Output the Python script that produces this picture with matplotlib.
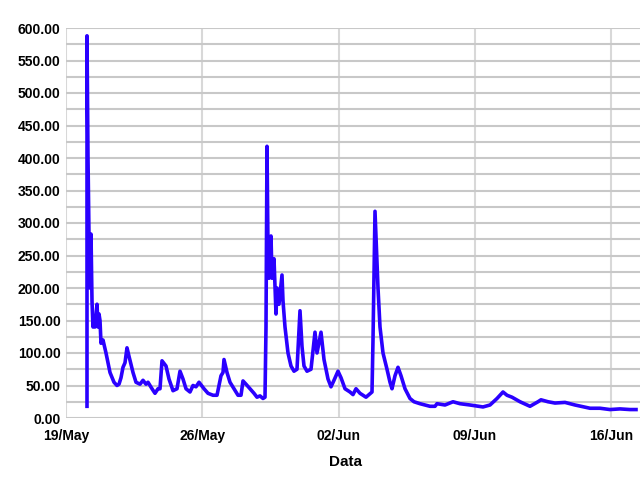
import matplotlib
matplotlib.use("Agg")
import matplotlib.pyplot as plt
from matplotlib.ticker import MultipleLocator, FormatStrFormatter
import datetime as dt

# pixel-read trace: x pixel positions and values
px = [87, 87, 88, 89, 90, 91, 92, 93, 94, 95, 97, 98, 99, 100, 101, 103, 106, 110, 114, 117, 119, 121, 123, 125,
      127, 129, 133, 136, 140, 143, 146, 148, 152, 155, 158, 160, 162, 166, 169, 173, 177, 180, 183, 186,
      190, 193, 196, 199, 204, 208, 213, 217, 221, 223, 224, 227, 230, 234, 238, 241, 243, 246, 250, 254,
      257, 260, 263, 265, 266, 267, 268, 269, 271, 272, 274, 276, 277, 279, 282, 283, 285, 288, 291, 294,
      297, 300, 302, 304, 307, 311, 315, 317, 321, 324, 328, 331, 334, 338, 341, 345, 350, 353, 356, 360,
      366, 372, 373, 375, 376, 378, 380, 383, 387, 390, 392, 395, 398, 401, 405, 410, 414, 420, 430, 435,
      437, 445, 453, 460, 470, 483, 490, 497, 503, 507, 512, 520, 530, 538, 541, 548, 555, 565, 575, 590,
      600, 610, 620, 630, 636]
values = [18, 588, 400, 280, 200, 283, 180, 140, 150, 140, 175, 140, 160, 150, 115, 120, 100, 70, 55, 50,
          52, 62, 78, 85, 108, 95, 70, 55, 52, 58, 52, 55, 45, 38, 45, 45, 88, 80, 60, 42, 45, 72, 60, 45,
          40, 50, 48, 55, 45, 38, 35, 35, 65, 70, 90, 70, 55, 45, 35, 35, 57, 52, 45, 38,
          32, 34, 30, 32, 140, 418, 260, 215, 280, 215, 245, 160, 200, 175, 220, 180, 140, 100, 80, 72,
          75, 165, 110, 80, 72, 75, 132, 100, 132, 90, 60, 48, 58, 72, 62, 45, 40, 36, 45, 38,
          32, 40, 120, 318, 280, 200, 140, 100, 75, 55, 45, 65, 78, 65, 45, 30, 25, 22, 18, 18,
          22, 20, 25, 22, 20, 17, 20, 30, 40, 35, 32, 25, 18, 25, 28, 25, 23, 24, 20, 15,
          15, 13, 14, 13, 13]

x_labels = ["19/May", "26/May", "02/Jun", "09/Jun", "16/Jun"]

start = dt.datetime(2013, 5, 19)
days = [(p - 66) / 19.47 for p in px]
times = [start + dt.timedelta(days=d) for d in days]

plt.rcParams['font.family'] = ['Liberation Sans', 'DejaVu Sans']

fig = plt.figure(figsize=(6.4, 4.8), dpi=100)
ax = fig.add_axes([66/640, 1-418/480, 1-66/640, (418-28)/480])

ax.plot(times, values, color='#2a00ff', lw=2.6, solid_joinstyle='round', zorder=3)

ax.set_ylim(0, 600)
ax.set_xlim(start, start + dt.timedelta(days=(640-66)/19.47))
ax.yaxis.set_major_locator(MultipleLocator(50))
ax.yaxis.set_minor_locator(MultipleLocator(25))
ax.yaxis.set_major_formatter(FormatStrFormatter('%.2f'))
ticks = [start + dt.timedelta(days=7*i) for i in range(5)]
ax.set_xticks(ticks)
ax.set_xticklabels(x_labels)

ax.grid(True, which='major', axis='y', color='#c8c8c8', lw=1.5)
ax.grid(True, which='minor', axis='y', color='#c8c8c8', lw=1.5)
ax.grid(True, which='major', axis='x', color='#d8d8d8', lw=1.5)
for s in ax.spines.values():
    s.set_visible(False)
ax.tick_params(axis='both', which='both', length=0)
ax.tick_params(axis='y', pad=4, labelsize=10)
ax.tick_params(axis='x', pad=8, labelsize=10)
for lab in ax.get_xticklabels() + ax.get_yticklabels():
    lab.set_fontweight('bold')
ax.set_xlabel('Data', fontweight='bold', fontsize=11, labelpad=8)
ax.xaxis.set_label_coords((346-66)/(640-66), -0.095)

fig.savefig('out.png', dpi=100)
